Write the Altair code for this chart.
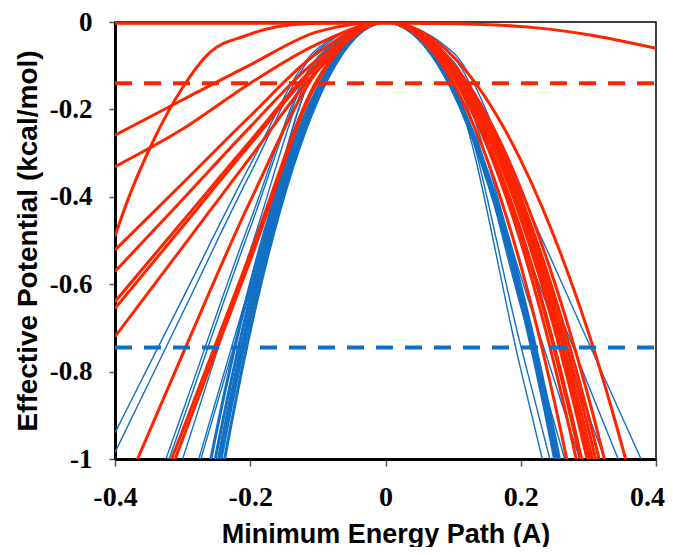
import altair as alt
import pandas as pd

RED = "#FF2400"
BLUE = "#1170C4"

X_GRID = [-0.4, -0.3, -0.2, -0.1, 0.0, 0.1, 0.2, 0.3, 0.4]

# red curves (values read at X_GRID; values below -1 fall outside the frame)
RED_CURVES = {
    "r1": [-0.259, -0.178, -0.098, -0.022, 0.0, -0.095, -0.381, -0.858, -1.524],
    "r2": [-0.331, -0.245, -0.140, -0.050, 0.0, -0.100, -0.401, -0.901, -1.602],
    "r3": [-0.522, -0.369, -0.215, -0.070, 0.0, -0.103, -0.414, -0.931, -1.654],
    "r4": [-0.571, -0.406, -0.240, -0.085, 0.0, -0.107, -0.427, -0.961, -1.709],
    "r5": [-0.640, -0.456, -0.272, -0.095, 0.0, -0.110, -0.439, -0.987, -1.754],
    "r6": [-0.655, -0.468, -0.280, -0.100, 0.0, -0.113, -0.450, -1.013, -1.802],
    "r7": [-0.720, -0.515, -0.310, -0.110, 0.0, -0.119, -0.476, -1.070, -1.902],
    "r8": [-1.120, -0.760, -0.410, -0.110, 0.0, -0.121, -0.482, -1.085, -1.929],
    "r9": [-1.330, -0.935, -0.530, -0.130, 0.0, -0.126, -0.503, -1.132, -2.012],
    "r10": [-1.360, -0.955, -0.545, -0.135, 0.0, -0.139, -0.557, -1.253, -2.227],
}

# red curve with a steep left wall and a flat top
RS_X = [-0.4, -0.381, -0.344, -0.3, -0.26, -0.208, -0.16, -0.1, 0.0, 0.1, 0.2, 0.3, 0.4]
RS_Y = [-0.49, -0.407, -0.274, -0.15, -0.07, -0.032, -0.011, -0.003, 0.0, -0.079, -0.316, -0.710, -1.262]

# nearly flat red curve along the top
RF_X = [-0.4, -0.2, 0.0, 0.1, 0.228, 0.3, 0.4]
RF_Y = [-0.003, -0.003, -0.003, -0.004, -0.014, -0.029, -0.060]

# thick blue curves
BLUE_THICK = {
    "b1": [-2.40, -1.35, -0.600, -0.150, 0.0, -0.157, -0.627, -1.41, -2.51],
    "b2": [-2.52, -1.42, -0.630, -0.158, 0.0, -0.154, -0.615, -1.38, -2.46],
    "b3": [-2.62, -1.475, -0.656, -0.164, 0.0, -0.151, -0.604, -1.36, -2.41],
    "b4": [-2.71, -1.52, -0.678, -0.169, 0.0, -0.160, -0.640, -1.44, -2.56],
    "b5": [-2.82, -1.59, -0.706, -0.177, 0.0, -0.157, -0.627, -1.41, -2.51],
}

# thin blue curves
BLUE_THIN = {
    "t1": [-0.940, -0.633, -0.327, -0.060, 0.0, -0.070, -0.390, -0.733, -1.076],
    "t2": [-0.985, -0.666, -0.347, -0.065, 0.0, -0.080, -0.447, -0.831, -1.215],
    "t3": [-1.329, -0.892, -0.455, -0.080, 0.0, -0.090, -0.489, -0.900, -1.310],
    "t4": [-1.353, -0.912, -0.471, -0.085, 0.0, -0.110, -0.582, -1.062, -1.542],
    "t5": [-1.478, -1.000, -0.522, -0.090, 0.0, -0.120, -0.651, -1.188, -1.726],
    "t6": [-1.655, -1.127, -0.599, -0.100, 0.0, -0.140, -0.741, -1.343, -1.944],
    "t7": [-1.671, -1.143, -0.615, -0.100, 0.0, -0.150, -0.795, -1.437, -2.079],
}

DASH_Y = [-0.14, -0.745]
DASH_COLOR = [RED, BLUE]

X_TICKS = [-0.4, -0.2, 0.0, 0.2, 0.4]
Y_TICKS = [-1.0, -0.8, -0.6, -0.4, -0.2, 0.0]


def rows_from(curves, xs=X_GRID):
    out = []
    for name, ys in curves.items():
        for x, y in zip(xs, ys):
            out.append({"curve": name, "x": x, "y": y})
    return out


red_rows = rows_from(RED_CURVES)
red_rows += [{"curve": "rs", "x": x, "y": y} for x, y in zip(RS_X, RS_Y)]
red_rows += [{"curve": "rf", "x": x, "y": y} for x, y in zip(RF_X, RF_Y)]
df_red = pd.DataFrame(red_rows)
df_bthick = pd.DataFrame(rows_from(BLUE_THICK))
df_bthin = pd.DataFrame(rows_from(BLUE_THIN))
df_dash = pd.DataFrame({"y": DASH_Y, "x1": [-0.4, -0.4], "x2": [0.4, 0.4], "c": DASH_COLOR})

label_expr = "datum.value == 0 ? '0' : (datum.value == -1 ? '-1' : replace(format(datum.value, '.1f'), '\u2212', '-'))"

W, H = 541, 437

x_enc = alt.X(
    "x:Q",
    scale=alt.Scale(domain=[-0.4, 0.4], nice=False, zero=False),
    axis=alt.Axis(
        values=X_TICKS, title="Minimum Energy Path (A)", labelExpr=label_expr,
        grid=False, tickSize=7, labelPadding=17, labelFontSize=28, labelFlush=False,
        labelOffset={"condition": {"test": "datum.value >= 0.39", "value": -9}, "value": 0},
        titleFontSize=27, titleX=W / 2, titleY=75, titleAlign="center",
        titleBaseline="middle",
    ),
)
y_enc = alt.Y(
    "y:Q",
    scale=alt.Scale(domain=[-1, 0], nice=False, zero=False),
    axis=alt.Axis(
        values=Y_TICKS, title="Effective Potential (kcal/mol)", labelExpr=label_expr,
        grid=False, tickSize=6, labelPadding=17, labelFontSize=27, labelFlush=False,
        titleFontSize=28, titleX=-87, titleY=H / 2, titleAngle=-90,
        titleAlign="center", titleBaseline="middle",
    ),
)

thin = alt.Chart(df_bthin).mark_line(
    clip=True, interpolate="monotone", strokeWidth=1.4, color=BLUE
).encode(x=x_enc, y=y_enc, detail="curve:N")

thick = alt.Chart(df_bthick).mark_line(
    clip=True, interpolate="monotone", strokeWidth=3, color=BLUE
).encode(x=x_enc, y=y_enc, detail="curve:N")

red = alt.Chart(df_red).mark_line(
    clip=True, interpolate="monotone", strokeWidth=3, color=RED
).encode(x=x_enc, y=y_enc, detail="curve:N")

dash = alt.Chart(df_dash).mark_rule(strokeDash=[17, 12], strokeWidth=4).encode(
    x=alt.X("x1:Q"), x2="x2:Q", y=alt.Y("y:Q"), color=alt.Color("c:N", scale=None)
)

chart = alt.layer(thin, thick, red, dash).properties(
    width=W, height=H,
    autosize=alt.AutoSizeParams(type="none"),
    padding={"left": 107, "top": 14, "right": 9, "bottom": 88},
).configure_view(
    stroke="black", strokeWidth=1.5
).configure_axis(
    domainColor="black", domainWidth=3, tickColor="#555555", tickWidth=1.5,
    labelFont="Liberation Serif", labelFontWeight="bold", labelColor="black",
    titleFont="Liberation Sans", titleFontWeight="bold", titleColor="black",
)

chart.save("out.html", embed_options={"renderer": "svg", "actions": False})
